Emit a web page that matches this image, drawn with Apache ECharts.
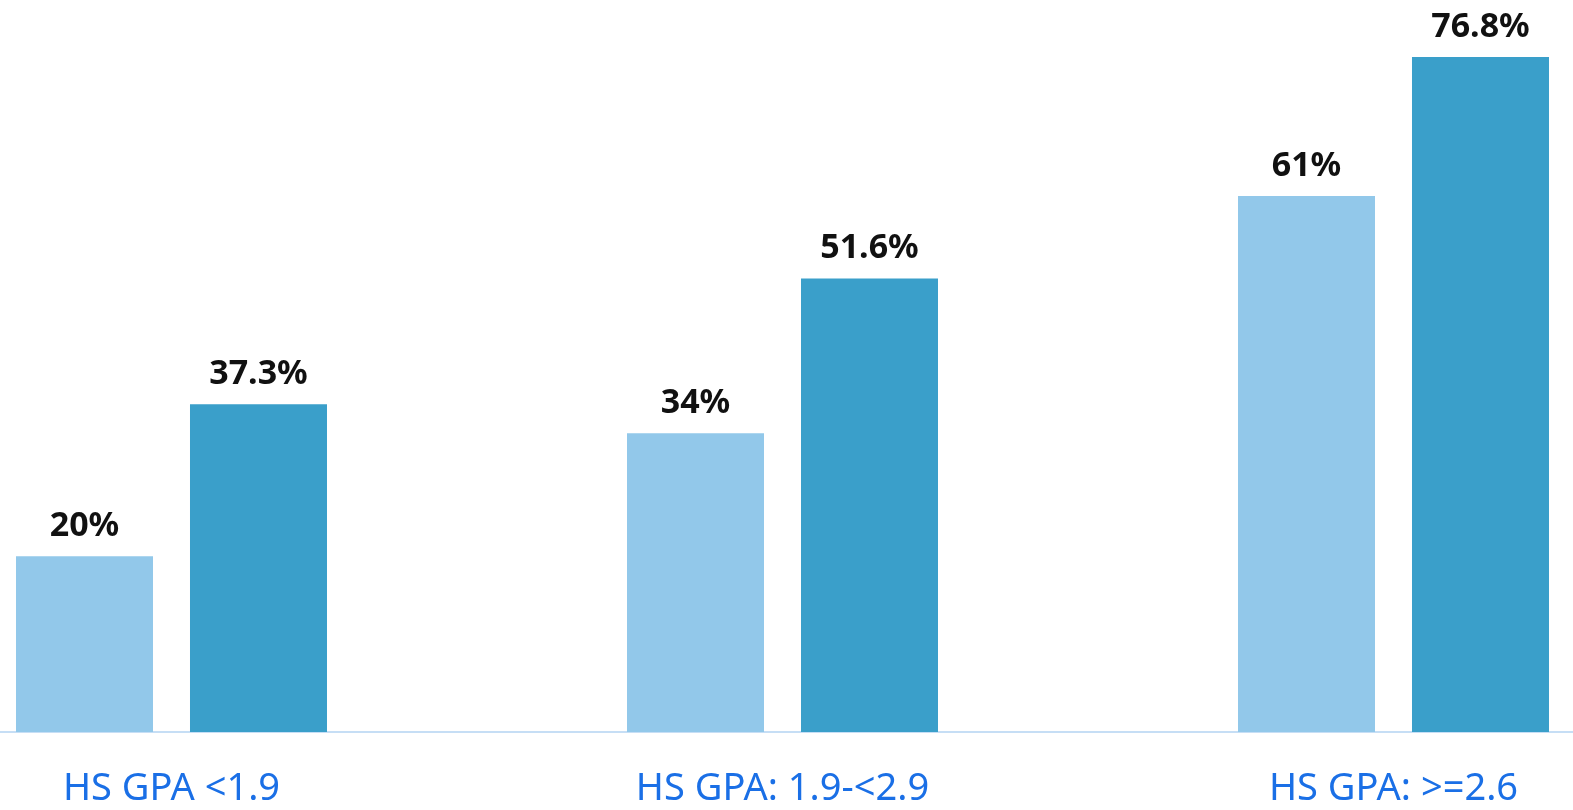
<!DOCTYPE html>
<html>
<head>
<meta charset="utf-8">
<script src="https://cdn.jsdelivr.net/npm/echarts@6/dist/echarts.min.js"></script>
<style>
html, body { margin: 0; padding: 0; background: #fff; }
#chart { width: 1573px; height: 810px; }
</style>
</head>
<body>
<div id="chart"></div>
<script>
const categories = ['HS GPA <1.9', 'HS GPA: 1.9-<2.9', 'HS GPA: >=2.6']
const lightValues = [20, 34, 61]
const darkValues = [37.3, 51.6, 76.8]

const myChart = echarts.init(document.getElementById('chart'))

const labelStyle = {
  show: true,
  position: 'top',
  distance: 13,
  formatter: p => p.value + '%',
  color: '#111',
  fontFamily: 'Noto Sans',
  fontWeight: 'bold',
  fontSize: 34
}

myChart.setOption({
  animation: false,
  grid: {
    left: -134,
    width: 1833,
    top: 29,
    bottom: 78,
    outerBoundsMode: 'none'
  },
  xAxis: {
    type: 'category',
    data: categories,
    axisTick: { show: false },
    axisLine: { lineStyle: { color: '#c6def5', width: 2 } },
    axisLabel: {
      color: '#1a6fe6',
      fontFamily: 'Noto Sans',
      fontSize: 38,
      margin: 38
    }
  },
  yAxis: {
    type: 'value',
    min: 0,
    max: 80,
    show: false,
    splitLine: { show: false }
  },
  series: [
    {
      name: 'light',
      type: 'bar',
      data: lightValues,
      barWidth: 137,
      barGap: '27%',
      itemStyle: { color: '#92c8ea' },
      label: labelStyle
    },
    {
      name: 'dark',
      type: 'bar',
      data: darkValues,
      barWidth: 137,
      itemStyle: { color: '#3a9fca' },
      label: labelStyle
    }
  ]
})
</script>
</body>
</html>
